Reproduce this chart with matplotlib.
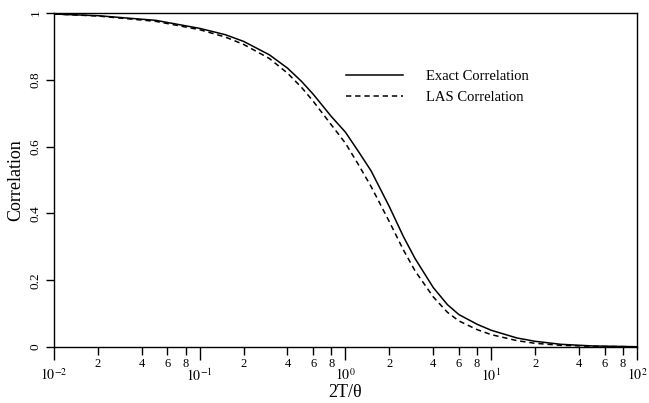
import matplotlib
matplotlib.use("Agg")
import matplotlib.pyplot as plt
from matplotlib.ticker import FixedLocator, FixedFormatter

plt.rcParams['font.family'] = ['Liberation Serif', 'DejaVu Serif']
plt.rcParams['mathtext.fontset'] = 'stix'

x_vals = [0.01, 0.02, 0.05, 0.1, 0.15, 0.2, 0.3, 0.4, 0.5, 0.6, 0.8, 1.0, 1.25, 1.5,
          2.0, 2.5, 3.0, 4.0, 5.0, 6.0, 8.0, 10.0, 15.0, 20.0, 30.0, 50.0, 100.0]
exact_corr = [0.997, 0.992, 0.978, 0.954, 0.935, 0.915, 0.875, 0.835, 0.795, 0.757,
              0.69, 0.643, 0.58, 0.527, 0.42, 0.33, 0.265, 0.178, 0.127, 0.097,
              0.068, 0.05, 0.027, 0.017, 0.008, 0.003, 0.0008]
las_corr = [0.997, 0.991, 0.975, 0.95, 0.928, 0.906, 0.864, 0.82, 0.777, 0.736,
            0.665, 0.61, 0.54, 0.48, 0.375, 0.29, 0.228, 0.15, 0.104, 0.078,
            0.052, 0.037, 0.019, 0.011, 0.005, 0.002, 0.0005]

series_labels = ["Exact Correlation", "LAS Correlation"]
ytick_vals = [0, 0.2, 0.4, 0.6, 0.8, 1]
ytick_labels = ["0", "0.2", "0.4", "0.6", "0.8", "1"]
major_x = [1e-2, 1e-1, 1e0, 1e1, 1e2]
major_x_labels = [r"$10^{-2}$", r"$10^{-1}$", r"$10^{0}$", r"$10^{1}$", r"$10^{2}$"]
minor_mults = [2, 4, 6, 8]

fig = plt.figure(figsize=(6.49, 4.03), dpi=100)
ax = fig.add_axes([0.0832, 0.139, 0.8983, 0.8287])

ax.plot(x_vals, exact_corr, color='black', lw=1.1, ls='-', label=series_labels[0])
ax.plot(x_vals, las_corr, color='black', lw=1.1, ls=(0, (3.5, 2.5)), label=series_labels[1])

ax.set_xscale('log')
ax.set_xlim(1e-2, 1e2)
ax.set_ylim(0, 1)

ax.xaxis.set_major_locator(FixedLocator(major_x))
ax.xaxis.set_major_formatter(FixedFormatter(major_x_labels))
minor_pos = [m * d for d in major_x[:-1] for m in minor_mults]
ax.xaxis.set_minor_locator(FixedLocator(minor_pos))
ax.xaxis.set_minor_formatter(FixedFormatter([str(m) for d in major_x[:-1] for m in minor_mults]))
ax.tick_params(axis='x', which='major', direction='out', length=9, width=1, pad=5.5, labelsize=10)
ax.tick_params(axis='x', which='minor', direction='out', length=6, width=1, pad=2, labelsize=9)

ax.set_yticks(ytick_vals)
ax.set_yticklabels(ytick_labels, rotation=90, va='center')
ax.tick_params(axis='y', which='major', direction='out', length=6, width=1, pad=3, labelsize=9.5)
ax.tick_params(axis='y', which='minor', left=False)

for s in ax.spines.values():
    s.set_linewidth(1.0)

ax.set_xlabel("2T/θ", fontsize=13, labelpad=0)
ax.set_ylabel("Correlation", fontsize=13, labelpad=4)

ax.legend(loc='upper left', bbox_to_anchor=(0.478, 0.87), frameon=False, fontsize=10.5,
          handlelength=3.9, handletextpad=1.6, labelspacing=0.55)

fig.savefig("out.png", dpi=100)
